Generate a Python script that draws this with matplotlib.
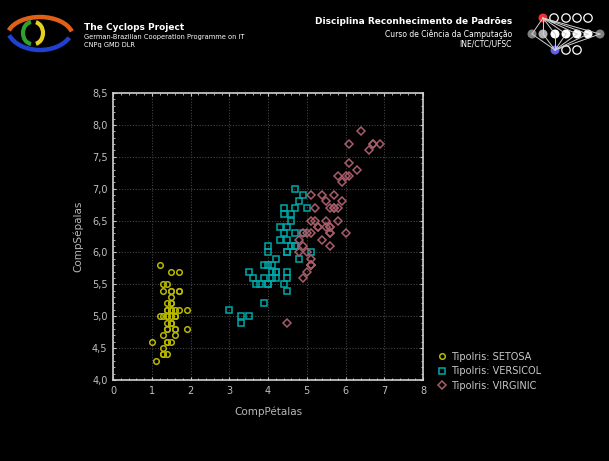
import matplotlib
matplotlib.use("Agg")
import matplotlib.pyplot as plt
from matplotlib.patches import Arc, Circle
import numpy as np

# iris: comprimento das petalas (x) e sepalas (y)
setosa_petala = [1.4, 1.4, 1.3, 1.5, 1.4, 1.7, 1.4, 1.5, 1.4, 1.5, 1.5, 1.6, 1.4, 1.1, 1.2, 1.5, 1.3,
                 1.4, 1.7, 1.5, 1.7, 1.5, 1.0, 1.7, 1.9, 1.6, 1.6, 1.5, 1.4, 1.6, 1.6, 1.5, 1.5, 1.4,
                 1.5, 1.2, 1.3, 1.5, 1.3, 1.5, 1.3, 1.3, 1.3, 1.6, 1.9, 1.4, 1.6, 1.4, 1.5, 1.4]
setosa_sepala = [5.1, 4.9, 4.7, 4.6, 5.0, 5.4, 4.6, 5.0, 4.4, 4.9, 5.4, 4.8, 4.8, 4.3, 5.8, 5.7, 5.4,
                 5.1, 5.7, 5.1, 5.4, 5.1, 4.6, 5.1, 4.8, 5.0, 5.0, 5.2, 5.2, 4.7, 4.8, 5.4, 5.2, 5.5,
                 4.9, 5.0, 5.5, 4.9, 4.4, 5.1, 5.0, 4.5, 4.4, 5.0, 5.1, 4.8, 5.1, 4.6, 5.3, 5.0]
versicol_petala = [4.7, 4.5, 4.9, 4.0, 4.6, 4.5, 4.7, 3.3, 4.6, 3.9, 3.5, 4.2, 4.0, 4.7, 3.6, 4.4, 4.5,
                   4.1, 4.5, 3.9, 4.8, 4.0, 4.9, 4.7, 4.3, 4.4, 4.8, 5.0, 4.5, 3.5, 3.8, 3.7, 3.9, 5.1,
                   4.5, 4.5, 4.7, 4.4, 4.1, 4.0, 4.4, 4.6, 4.0, 3.3, 4.2, 4.2, 4.2, 4.3, 3.0, 4.1]
versicol_sepala = [7.0, 6.4, 6.9, 5.5, 6.5, 5.7, 6.3, 4.9, 6.6, 5.2, 5.0, 5.9, 6.0, 6.1, 5.6, 6.7, 5.6,
                   5.8, 6.2, 5.6, 5.9, 6.1, 6.3, 6.1, 6.4, 6.6, 6.8, 6.7, 6.0, 5.7, 5.5, 5.5, 5.8, 6.0,
                   5.4, 6.0, 6.7, 6.3, 5.6, 5.5, 5.5, 6.1, 5.8, 5.0, 5.6, 5.7, 5.7, 6.2, 5.1, 5.7]
virginic_petala = [6.0, 5.1, 5.9, 5.6, 5.8, 6.6, 4.5, 6.3, 5.8, 6.1, 5.1, 5.3, 5.5, 5.0, 5.1, 5.3, 5.5,
                   6.7, 6.9, 5.0, 5.7, 4.9, 6.7, 4.9, 5.7, 6.0, 4.8, 4.9, 5.6, 5.8, 6.1, 6.4, 5.6, 5.1,
                   5.6, 6.1, 5.6, 5.5, 4.8, 5.4, 5.6, 5.1, 5.1, 5.9, 5.7, 5.2, 5.0, 5.2, 5.4, 5.1]
virginic_sepala = [6.3, 5.8, 7.1, 6.3, 6.5, 7.6, 4.9, 7.3, 6.7, 7.2, 6.5, 6.4, 6.8, 5.7, 5.8, 6.4, 6.5,
                   7.7, 7.7, 6.0, 6.9, 5.6, 7.7, 6.3, 6.7, 7.2, 6.2, 6.1, 6.4, 7.2, 7.4, 7.9, 6.4, 6.3,
                   6.1, 7.7, 6.3, 6.4, 6.0, 6.9, 6.7, 6.9, 5.8, 6.8, 6.7, 6.7, 6.3, 6.5, 6.2, 5.9]

legendas = ["TipoIris: SETOSA", "TipoIris: VERSICOL", "TipoIris: VIRGINIC"]
cores = ["#b8b800", "#00a9a9", "#a85c6a"]
marcadores = ["o", "s", "D"]

xticks = np.arange(0, 9, 1)
yticks = np.arange(4.0, 8.51, 0.5)

W, H = 609, 461
fig = plt.figure(figsize=(W / 100, H / 100), dpi=100, facecolor="black")

ax = fig.add_axes([113 / W, 1 - 380 / H, 310 / W, 287 / H], facecolor="black")
series = [(setosa_petala, setosa_sepala), (versicol_petala, versicol_sepala),
          (virginic_petala, virginic_sepala)]
handles = []
for (px, py), c, m, lab in zip(series, cores, marcadores, legendas):
    ms = 3.6 if m == "D" else 4.0
    h, = ax.plot(px, py, ls="none", marker=m, ms=ms, mfc="none", mec=c, mew=1.1, label=lab)
    handles.append(h)

ax.set_xlim(0, 8)
ax.set_ylim(4.0, 8.5)
ax.set_xticks(xticks)
ax.set_xticklabels([str(v) for v in xticks])
ax.set_yticks(yticks)
ax.set_yticklabels([f"{v:.1f}".replace(".", ",") for v in yticks])
ax.set_xticks(np.arange(0, 8.01, 0.2), minor=True)
ax.set_yticks(np.arange(4.0, 8.51, 0.1), minor=True)
ax.grid(True, which="major", color="#444444", ls=(0, (1, 1.5)), lw=0.8)
ax.tick_params(which="both", direction="in", top=True, right=True, color="#c8c8c8",
               labelcolor="#c0c0c0", labelsize=7)
ax.tick_params(which="major", length=2.5, width=0.8, pad=4)
ax.tick_params(which="minor", length=1.5, width=0.6)
for s in ax.spines.values():
    s.set_color("#d0d0d0")
    s.set_linewidth(1.2)
ax.set_xlabel("CompPétalas", color="#b8b8b8", fontsize=7.5, labelpad=8)
ax.set_ylabel("CompSépalas", color="#b8b8b8", fontsize=7.5, labelpad=6)

leg = fig.legend(handles=handles, loc="upper left", bbox_to_anchor=(433 / W, 1 - 348 / H),
                 frameon=False, fontsize=7, labelcolor="#c8c8c8", handlelength=1.0,
                 handletextpad=0.5, labelspacing=0.45, borderaxespad=0)

# cabecalho
fig.text(84 / W, 1 - 27 / H, "The Cyclops Project", color="white", fontsize=6.5,
         fontweight="bold", va="center")
fig.text(84 / W, 1 - 37 / H, "German-Brazilian Cooperation Programme on IT", color="white",
         fontsize=4.8, va="center")
fig.text(84 / W, 1 - 45 / H, "CNPq GMD DLR", color="white", fontsize=4.8, va="center")
fig.text(512 / W, 1 - 22 / H, "Disciplina Reconhecimento de Padrões", color="white",
         fontsize=6.5, fontweight="bold", ha="right", va="center")
fig.text(512 / W, 1 - 34 / H, "Curso de Ciência da Camputação", color="white",
         fontsize=5.5, ha="right", va="center")
fig.text(512 / W, 1 - 44 / H, "INE/CTC/UFSC", color="white", fontsize=5.5, ha="right",
         va="center")

# logos em coordenadas de pixel
lg = fig.add_axes([0, 0, 1, 1], facecolor="none")
lg.set_xlim(0, W)
lg.set_ylim(H, 0)
lg.axis("off")
lg.add_patch(Arc((40, 37), 66, 40, theta1=192, theta2=350, color="#e06018", lw=3.2))
lg.add_patch(Arc((40, 27), 66, 46, theta1=20, theta2=165, color="#2040d0", lw=3.2))
lg.add_patch(Arc((32, 33), 18, 22, theta1=95, theta2=265, color="#30a030", lw=3))
lg.add_patch(Arc((34, 33), 18, 22, theta1=-80, theta2=80, color="#e8d020", lw=3))

top = [(543, 18), (554, 18), (566, 18), (577, 18), (588, 18)]
mid = [(532, 34), (543, 34), (555, 34), (566, 34), (577, 34), (588, 34), (600, 34)]
bot = [(555, 50), (566, 50), (577, 50)]
for p in mid:
    lg.plot([top[0][0], p[0]], [top[0][1], p[1]], color="#d0d0d0", lw=0.7)
    lg.plot([bot[0][0], p[0]], [bot[0][1], p[1]], color="#d0d0d0", lw=0.7)
mid_cores = ["#808080", "#b0b0b0", "white", "white", "white", "white", "#808080"]
for p, c in zip(mid, mid_cores):
    lg.add_patch(Circle(p, 4.5, fc=c, ec="none"))
lg.add_patch(Circle(top[0], 4.5, fc="#f03030", ec="none"))
for p in top[1:] + bot[1:]:
    lg.add_patch(Circle(p, 4.2, fc="black", ec="white", lw=0.9))
lg.add_patch(Circle(bot[0], 4.5, fc="#6060f0", ec="none"))

fig.savefig("out.png", dpi=100, facecolor="black")
